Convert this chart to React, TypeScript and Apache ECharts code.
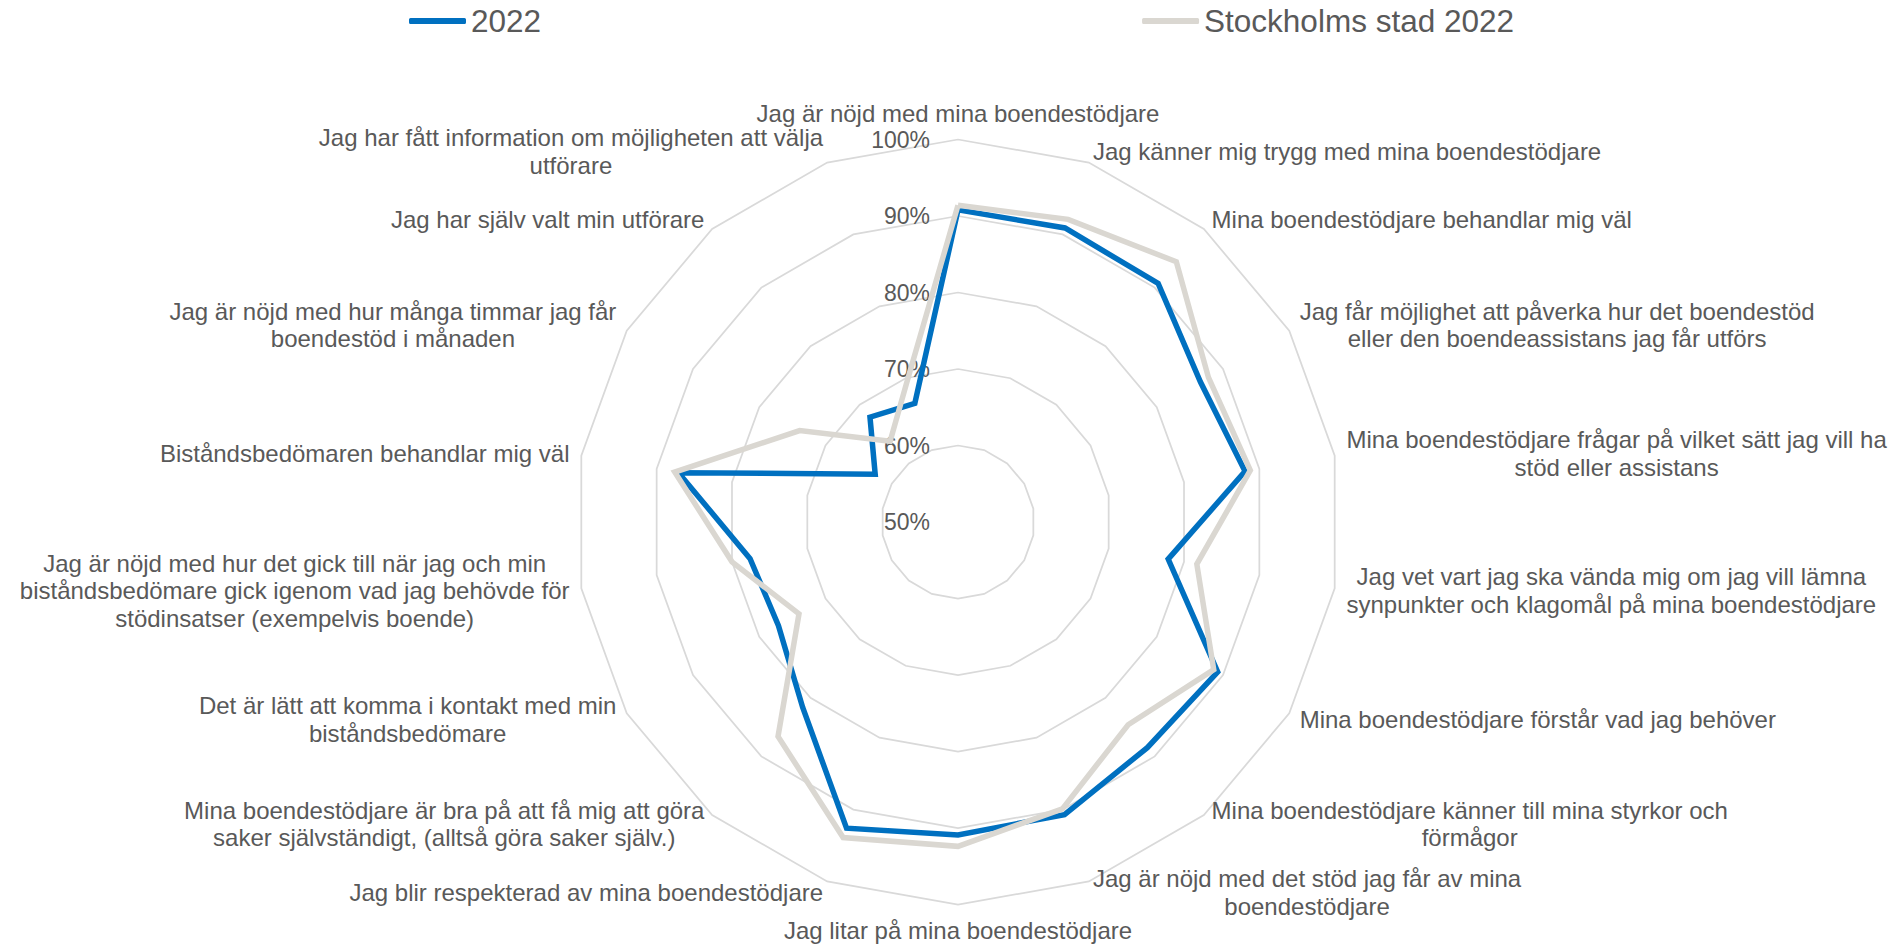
import React, { useEffect, useRef } from "react";
import * as echarts from "echarts";

const categories: string[] = [
  "Jag är nöjd med mina boendestödjare",
  "Jag känner mig trygg med mina boendestödjare",
  "Mina boendestödjare behandlar mig väl",
  "Jag får möjlighet att påverka hur det boendestöd\neller den boendeassistans jag får utförs",
  "Mina boendestödjare frågar på vilket sätt jag vill ha\nstöd eller assistans",
  "Jag vet vart jag ska vända mig om jag vill lämna\nsynpunkter och klagomål på mina boendestödjare",
  "Mina boendestödjare förstår vad jag behöver",
  "Mina boendestödjare känner till mina styrkor och\nförmågor",
  "Jag är nöjd med det stöd jag får av mina\nboendestödjare",
  "Jag litar på mina boendestödjare",
  "Jag blir respekterad av mina boendestödjare",
  "Mina boendestödjare är bra på att få mig att göra\nsaker självständigt, (alltså göra saker själv.)",
  "Det är lätt att komma i kontakt med min\nbiståndsbedömare",
  "Jag är nöjd med hur det gick till när jag och min\nbiståndsbedömare gick igenom vad jag behövde för\nstödinsatser (exempelvis boende)",
  "Biståndsbedömaren behandlar mig väl",
  "Jag är nöjd med hur många timmar jag får\nboendestöd i månaden",
  "Jag har själv valt min utförare",
  "Jag har fått information om möjligheten att välja\nutförare",
];

const seriesNames: string[] = ["2022", "Stockholms stad 2022"];

const values2022: number[] = [
  90.8, 90.9, 90.7, 86.6, 88.1, 77.9, 89.2, 88.5, 90.7,
  90.9, 92.6, 81.6, 77.1, 77.6, 87.1, 62.5, 67.9, 66.5,
];

const valuesStockholm: number[] = [
  91.4, 92.1, 94.4, 87.8, 88.8, 81.7, 88.6, 84.6, 89.9,
  92.4, 93.9, 86.6, 74.0, 80.0, 87.6, 73.9, 63.8, 69.5,
];

const axisMin = 50;
const axisMax = 100;
const axisStep = 10;

const FONT = "'Liberation Sans', Arial, sans-serif";
const TEXT_COLOR = "#595959";

export default function App() {
  const ref = useRef<HTMLDivElement | null>(null);

  useEffect(() => {
    if (!ref.current) return;
    const chart = echarts.init(ref.current, null, { renderer: "svg" });

    // ECharts radar runs counter-clockwise; reorder so categories run clockwise.
    const n = categories.length;
    const order = [0];
    for (let k = n - 1; k >= 1; k--) order.push(k);

    const indicator = order.map((i) => ({
      name: categories[i],
      min: axisMin,
      max: axisMax,
    }));

    const cx = 958;
    const cy = 522;
    const R = 382.5;

    const option: any = {
      animation: false,
      backgroundColor: "#ffffff",
      textStyle: { fontFamily: FONT },
      legend: {
        left: 404,
        top: 0,
        itemWidth: 57,
        itemHeight: 6,
        itemGap: 601,
        textStyle: { fontSize: 31.5, color: TEXT_COLOR, fontFamily: FONT },
        data: [
          { name: seriesNames[0], icon: "roundRect" },
          { name: seriesNames[1], icon: "roundRect" },
        ],
      },
      radar: {
        center: [cx, cy],
        radius: R,
        startAngle: 90,
        splitNumber: (axisMax - axisMin) / axisStep,
        shape: "polygon",
        indicator,
        nameGap: 12,
        axisName: {
          color: TEXT_COLOR,
          fontSize: 24,
          fontFamily: FONT,
          formatter: (name: string) =>
            name
              .split("\n")
              .map((l) => "{c|" + l + "}")
              .join("\n"),
          rich: {
            c: {
              fontSize: 24,
              lineHeight: 27.5,
              color: TEXT_COLOR,
              fontFamily: FONT,
              align: "center",
            },
          },
        },
        axisLine: { show: false },
        axisTick: { show: false },
        axisLabel: { show: false },
        splitArea: { show: false },
        splitLine: { lineStyle: { color: "#D9D9D9", width: 1.75 } },
      },
      grid: {
        left: cx,
        top: cy - R,
        width: 10,
        height: R,
        containLabel: false,
      },
      xAxis: { type: "value", show: false },
      yAxis: {
        type: "value",
        min: axisMin,
        max: axisMax,
        interval: axisStep,
        axisLine: { show: false },
        axisTick: { show: false },
        splitLine: { show: false },
        axisLabel: {
          formatter: "{value}%",
          margin: 28,
          fontSize: 23,
          color: TEXT_COLOR,
          fontFamily: FONT,
        },
      },
      series: [
        {
          type: "radar",
          symbol: "none",
          data: [
            {
              name: seriesNames[0],
              value: order.map((i) => values2022[i]),
              itemStyle: { color: "#0070C0" },
              lineStyle: { color: "#0070C0", width: 5.5, join: "miter" },
            },
            {
              name: seriesNames[1],
              value: order.map((i) => valuesStockholm[i]),
              itemStyle: { color: "#DAD7D1" },
              lineStyle: { color: "#DAD7D1", width: 5.5, join: "miter" },
            },
          ],
        },
      ],
    };

    chart.setOption(option);
    return () => chart.dispose();
  }, []);

  return (
    <div
      ref={ref}
      style={{
        position: "fixed",
        left: 0,
        top: 0,
        width: 1900,
        height: 950,
        background: "#ffffff",
      }}
    />
  );
}
